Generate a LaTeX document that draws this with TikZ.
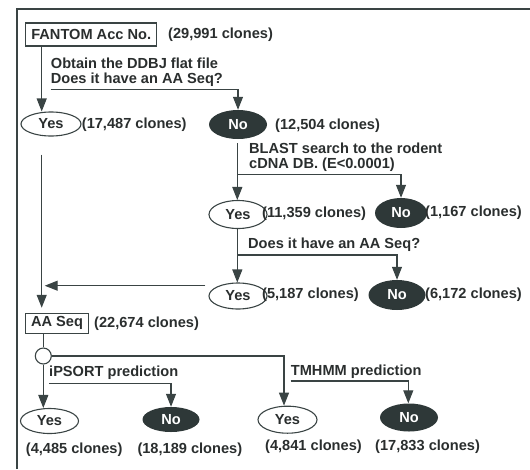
\documentclass[tikz,border=0pt]{standalone}
\usepackage{fontspec}
\setmainfont{Liberation Sans}
\usetikzlibrary{calc, positioning, shapes.geometric, arrows.meta}
\definecolor{xline}{HTML}{3A4444}
\definecolor{xdark}{HTML}{2E3838}
\definecolor{xtext}{HTML}{2A2E2E}
\tikzset{
	flow/.style = {draw=xline, line width=1.2pt, -{Triangle[length=13pt, width=10pt]}},
	rule/.style = {draw=xline, line width=1.2pt},
	yesnode/.style = {ellipse, draw=xline, line width=1.1pt, inner sep=0pt, minimum width=#1, minimum height=26pt},
	nonode/.style = {ellipse, fill=xdark, text=white, inner sep=0pt, minimum width=#1, minimum height=28pt},
	seqbox/.style = {rectangle, draw=xline, line width=1.1pt, inner sep=0pt},
	count/.style = {anchor=west, inner sep=0pt},
	question/.style = {anchor=west, inner sep=0pt, align=left},
}

\begin{document}
\begin{tikzpicture}[x=1pt, y=-1pt, font=\fontsize{14.6}{15}\selectfont\bfseries, text=xtext]
			\useasboundingbox (0,0) rectangle (530,469);
			% frame
			\draw[rule] (17,469) -- (17,9) -- (530,9);
			\coordinate (spine) at (41.7,0);
			% first question
			\node[seqbox, minimum width=131pt, minimum height=23pt] (acc) at (91.2,34.5) {FANTOM Acc No.};
			\node[count] (acccount) at (168,34.5) {(29,991 clones)};
			\node[question] (ddbj) at (50.7,72.5) {Obtain the DDBJ flat file\\Does it have an AA Seq?};
			\node[yesnode=60pt, minimum height=24pt] (yes1) at (51,124) {Yes};
			\node[count] (yes1count) at (81.7,125) {(17,487 clones)};
			\node[nonode=58pt, minimum height=29pt] (no1) at (238,124.5) {No};
			\node[count] (no1count) at (275,126) {(12,504 clones)};
			\coordinate (ddbjturn) at (50.7,89.3);
			\draw[flow] (spine |- acc.south) -- (spine |- yes1.north);
			\draw[flow] (ddbjturn) -| (no1.north);
			% rodent search
			\node[question] (blast) at (249,157.5) {BLAST search to the rodent\\cDNA DB. (E<0.0001)};
			\node[yesnode=58pt, minimum height=28pt] (yes2) at (238,214.5) {Yes};
			\node[count] (yes2count) at (262,213.5) {(11,359 clones)};
			\node[nonode=52pt, minimum height=30pt] (no2) at (401,213) {No};
			\node[count] (no2count) at (425,213) {(1,167 clones)};
			\coordinate (blastturn) at (237.3,174.3);
			\draw[flow, shorten <=4pt] (no1.south -| blastturn) -- (yes2.north -| blastturn);
			\draw[flow] (blastturn) -| (no2.north);
			% second question
			\node[question] (again) at (248,245) {Does it have an AA Seq?};
			\node[yesnode=58pt] (yes3) at (238,296) {Yes};
			\node[count] (yes3count) at (262,294.5) {(5,187 clones)};
			\node[nonode=57pt, minimum height=30pt] (no3) at (397,295) {No};
			\node[count] (no3count) at (425,295) {(6,172 clones)};
			\coordinate (againturn) at (237.3,255);
			\draw[flow] (yes2.south -| againturn) -- (yes3.north -| againturn);
			\draw[flow] (againturn) -| (no3.north);
			% amino acid sequences
			\node[seqbox, minimum width=62.6pt, minimum height=20pt] (aaseq) at (57,323.3) {AA Seq};
			\node[count] (aacount) at (94,324) {(22,674 clones)};
			\draw[flow, shorten <=18pt, shorten >=5pt] (spine |- yes1.south) -- (spine |- aaseq.north);
			\draw[flow, shorten <=3pt, shorten >=3pt] (yes3.west |- 0,285.7) -- (spine |- 0,285.7);
			\node[circle, draw=xline, fill=white, line width=1.1pt, minimum size=16pt, inner sep=0pt] (split) at (43.3,356) {};
			\draw[rule] (aaseq.south -| split) -- (split.north);
			% predictions
			\node[question] (ipsort) at (49,372.7) {iPSORT prediction};
			\node[question] (tmhmm) at (290.7,371.7) {TMHMM prediction};
			\node[yesnode=58pt, minimum height=25pt] (yes4) at (49.5,421) {Yes};
			\node[nonode=57pt, minimum height=25pt] (no4) at (171,419.5) {No};
			\node[yesnode=59pt, minimum height=27pt] (yes5) at (287.5,419.7) {Yes};
			\node[nonode=58pt, minimum height=28pt] (no5) at (409,417.5) {No};
			\node[count] (yes4count) at (25.7,450) {(4,485 clones)};
			\node[count] (no4count) at (137.3,450) {(18,189 clones)};
			\node[count] (yes5count) at (265,446.7) {(4,841 clones)};
			\node[count] (no5count) at (375,446.7) {(17,833 clones)};
			\coordinate (ipsortturn) at (49,383.3);
			\coordinate (tmhmmturn) at (290.7,381);
			\draw[flow] (split.south) -- (split.south |- yes4.north);
			\draw[flow] (split.east) -| (yes5.north -| 284,0);
			\draw[flow] (ipsortturn) -| (no4.north);
			\draw[flow] (tmhmmturn) -| (no5.north -| 408.3,0);
		\end{tikzpicture}
\end{document}
